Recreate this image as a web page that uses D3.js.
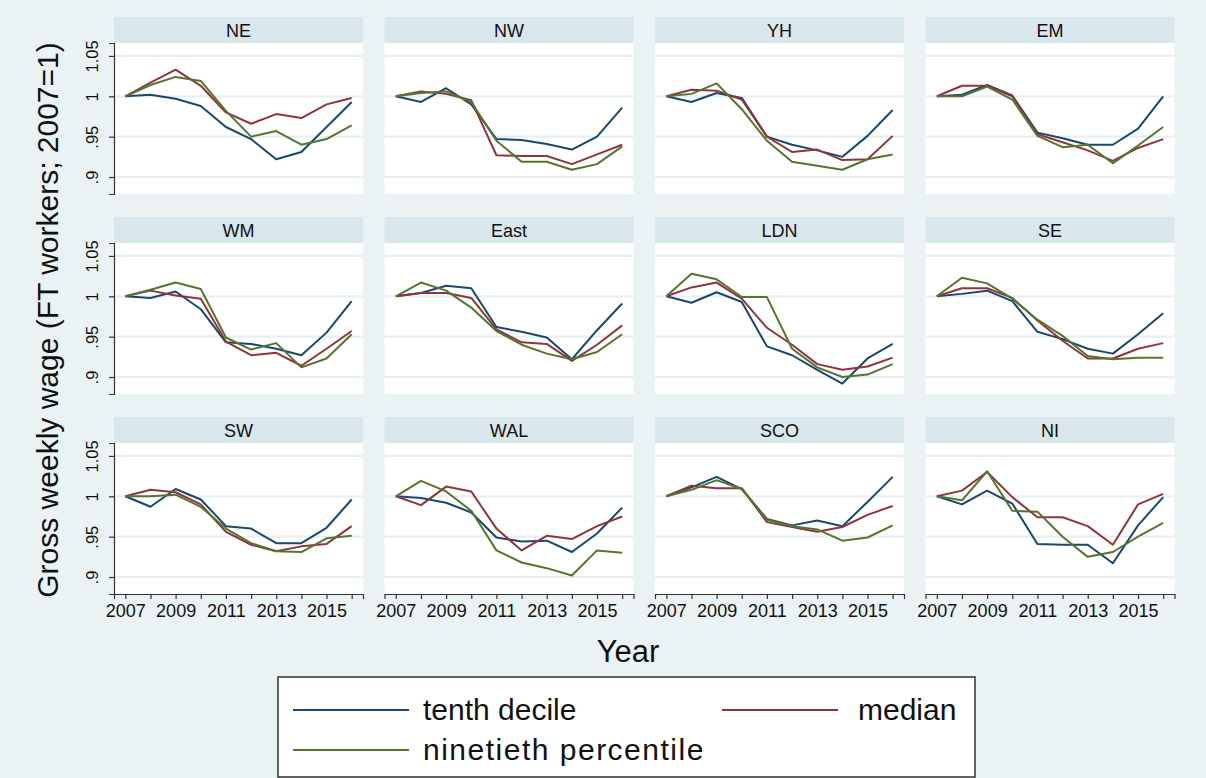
<!DOCTYPE html>
<html><head><meta charset="utf-8">
<script src="https://cdn.jsdelivr.net/npm/d3@7"></script>
<style>
html,body{margin:0;padding:0;background:#eaf2f3;}
svg{display:block;font-family:"Liberation Sans",Arial,sans-serif;}
</style></head>
<body>
<svg id="chart" width="1206" height="778"></svg>
<script>
const regions = ["NE","NW","YH","EM","WM","East","LDN","SE","SW","WAL","SCO","NI"];
const years = [2007,2008,2009,2010,2011,2012,2013,2014,2015,2016];
const xTickYears = [2007,2009,2011,2013,2015];
const yTicks = [0.9,0.95,1,1.05];
const yTickLabels = [".9",".95","1","1.05"];
const seriesNames = ["tenth decile","median","ninetieth percentile"];
const seriesColors = ["#1a476f","#90353b","#55752f"];

const tenthDecile = [
  [1,1.002,0.997,0.988,0.962,0.947,0.922,0.931,0.962,0.993],
  [1,0.993,1.010,0.990,0.947,0.946,0.941,0.934,0.950,0.986],
  [1,0.993,1.004,0.998,0.950,0.940,0.933,0.925,0.951,0.983],
  [1,1.002,1.014,1.001,0.955,0.948,0.940,0.940,0.960,1.000],
  [1,0.998,1.006,0.984,0.943,0.941,0.935,0.927,0.955,0.994],
  [1,1.004,1.013,1.010,0.962,0.956,0.949,0.922,0.958,0.991],
  [1,0.992,1.005,0.993,0.938,0.927,0.909,0.892,0.923,0.941],
  [1,1.003,1.007,0.994,0.956,0.947,0.935,0.929,0.953,0.979],
  [1,0.987,1.009,0.996,0.963,0.960,0.942,0.942,0.961,0.996],
  [1,0.998,0.992,0.980,0.949,0.944,0.945,0.931,0.954,0.986],
  [1,1.011,1.024,1.009,0.972,0.964,0.970,0.963,0.993,1.024],
  [1,0.990,1.007,0.991,0.941,0.940,0.940,0.917,0.964,0.999]
];
const median = [
  [1,1.017,1.033,1.013,0.980,0.966,0.978,0.973,0.990,0.998],
  [1,1.006,1.003,0.995,0.927,0.926,0.926,0.916,0.928,0.940],
  [1,1.008,1.007,0.996,0.950,0.931,0.934,0.921,0.922,0.951],
  [1,1.013,1.013,1.000,0.953,0.943,0.933,0.920,0.936,0.947],
  [1,1.007,1.001,0.997,0.944,0.927,0.930,0.914,0.935,0.957],
  [1,1.004,1.004,0.998,0.959,0.943,0.941,0.920,0.940,0.964],
  [1,1.011,1.017,0.997,0.961,0.940,0.916,0.909,0.913,0.924],
  [1,1.010,1.010,0.998,0.970,0.945,0.923,0.923,0.935,0.942],
  [1,1.008,1.005,0.990,0.956,0.940,0.932,0.938,0.941,0.963],
  [1,0.989,1.012,1.006,0.960,0.933,0.951,0.947,0.963,0.975],
  [1,1.013,1.010,1.010,0.968,0.962,0.956,0.962,0.977,0.988],
  [1,1.007,1.030,0.999,0.974,0.974,0.963,0.940,0.990,1.003]
];
const ninetiethPercentile = [
  [1,1.014,1.024,1.019,0.982,0.950,0.957,0.940,0.947,0.964],
  [1,1.004,1.006,0.993,0.945,0.919,0.919,0.909,0.916,0.938],
  [1,1.003,1.016,0.984,0.945,0.919,0.914,0.909,0.922,0.928],
  [1,1.000,1.012,0.996,0.951,0.937,0.940,0.917,0.939,0.962],
  [1,1.008,1.017,1.009,0.949,0.934,0.942,0.912,0.923,0.953],
  [1,1.017,1.007,0.986,0.957,0.940,0.929,0.922,0.931,0.953],
  [1,1.028,1.021,0.999,0.999,0.935,0.912,0.900,0.903,0.916],
  [1,1.023,1.016,0.997,0.971,0.951,0.926,0.922,0.924,0.924],
  [1,1.000,1.002,0.987,0.960,0.942,0.932,0.931,0.948,0.951],
  [1,1.019,1.006,0.982,0.933,0.918,0.911,0.902,0.933,0.930],
  [1,1.008,1.020,1.009,0.971,0.963,0.959,0.945,0.949,0.964],
  [1,0.995,1.031,0.982,0.981,0.950,0.925,0.931,0.950,0.967]
];
const allSeries = [tenthDecile, median, ninetiethPercentile];

const svg = d3.select("#chart");
svg.append("rect").attr("width",1206).attr("height",778).attr("fill","#eaf2f3");

const colX0 = 114, colPitch = 270.5, panelW = 249;
const rowY0 = 17, rowPitch = 200, headerH = 26, plotH = 151;

const x = d3.scaleLinear().domain([2006.55, 2016.45]).range([0, panelW]);
const y = d3.scaleLinear().domain([0.879, 1.066]).range([plotH, 0]);
const line = d3.line().x(d => x(d[0])).y(d => y(d[1]));

regions.forEach((reg, i) => {
  const c = i % 4, r = Math.floor(i / 4);
  const g = svg.append("g").attr("transform", `translate(${colX0 + c*colPitch},${rowY0 + r*rowPitch})`);
  g.append("rect").attr("width", panelW).attr("height", headerH).attr("fill", "#d9e6eb");
  g.append("text").attr("x", panelW/2).attr("y", headerH/2 + 6.5).attr("text-anchor","middle")
    .attr("font-size", 18).attr("fill","#111").text(reg);
  const p = g.append("g").attr("transform", `translate(0,${headerH})`);
  p.append("rect").attr("width", panelW).attr("height", plotH).attr("fill", "#ffffff");
  p.selectAll("line.grid").data(yTicks).enter().append("line").attr("class","grid")
    .attr("x1",0).attr("x2",panelW).attr("y1",d=>y(d)).attr("y2",d=>y(d))
    .attr("stroke","#e8eff2").attr("stroke-width",2.2);
  allSeries.forEach((s, k) => {
    p.append("path").datum(years.map((yr, j) => [yr, s[i][j]]))
      .attr("d", line).attr("fill","none").attr("stroke", seriesColors[k])
      .attr("stroke-width", 2).attr("stroke-linejoin","round");
  });
  if (c === 0) {
    const ax = p.append("g").call(d3.axisLeft(y).tickValues(yTicks).tickSize(5)
      .tickFormat((d, j) => yTickLabels[j]));
    ax.select(".domain").attr("stroke","#333").attr("stroke-width",1.2);
    ax.selectAll(".tick line").attr("stroke","#333").attr("stroke-width",1.2);
    ax.selectAll(".tick text").attr("font-size",16.5).attr("fill","#111")
      .attr("font-family",'"Liberation Sans",Arial,sans-serif')
      .attr("text-anchor","middle").attr("transform","rotate(-90)")
      .attr("x",0).attr("y",-16).attr("dy","0");
  }
  if (r === 2) {
    const ax = p.append("g").attr("transform", `translate(0,${plotH})`)
      .call(d3.axisBottom(x).tickValues(years).tickSize(5)
        .tickFormat(d => xTickYears.includes(d) ? String(d) : ""));
    ax.select(".domain").attr("stroke","#333").attr("stroke-width",1.2);
    ax.selectAll(".tick line").attr("stroke","#333").attr("stroke-width",1.2);
    ax.selectAll(".tick text").attr("font-size",18).attr("fill","#111")
      .attr("font-family",'"Liberation Sans",Arial,sans-serif').attr("y",10).attr("dy","0.71em");
  }
});

svg.append("text").attr("transform","translate(58,320) rotate(-90)").attr("text-anchor","middle")
  .attr("font-size",30).attr("fill","#111").text("Gross weekly wage (FT workers; 2007=1)");
svg.append("text").attr("x",628).attr("y",662).attr("text-anchor","middle")
  .attr("font-size",31).attr("fill","#111").text("Year");

const lg = svg.append("g");
lg.append("rect").attr("x",278).attr("y",677).attr("width",697).attr("height",100)
  .attr("fill","#ffffff").attr("stroke","#333").attr("stroke-width",1.5);
const legendPos = [[293,710],[722,710],[293,750]];
const legendSpacing = [0,0,1.5];
seriesNames.forEach((n, k) => {
  const [lx, ly] = legendPos[k];
  lg.append("line").attr("x1",lx).attr("x2",lx+116).attr("y1",ly).attr("y2",ly)
    .attr("stroke",seriesColors[k]).attr("stroke-width",2);
  lg.append("text").attr("x",lx + (k === 1 ? 136 : 130)).attr("y",ly+10).attr("font-size",30)
    .attr("letter-spacing",legendSpacing[k]).attr("fill","#111").text(n);
});
</script>
</body></html>
